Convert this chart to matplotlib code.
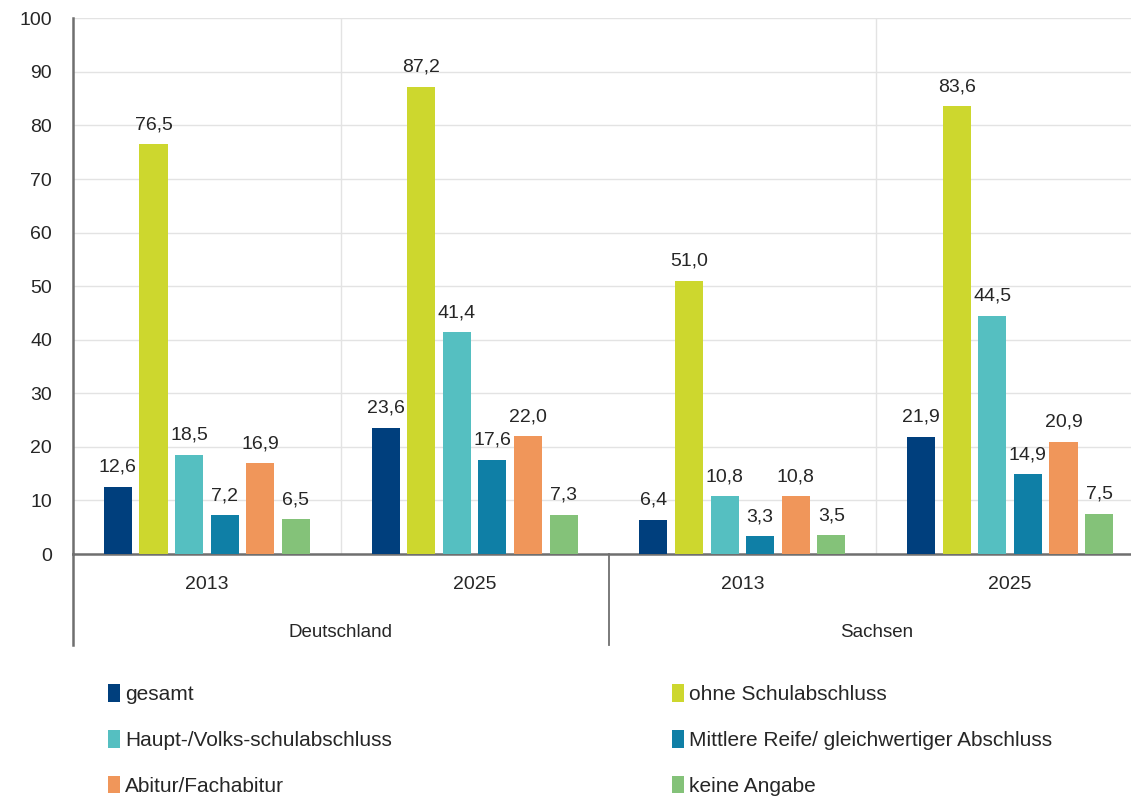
import matplotlib.pyplot as plt
import numpy as np
from matplotlib.patches import Patch
from matplotlib.lines import Line2D
from matplotlib.transforms import blended_transform_factory

plt.rcParams['font.family'] = ['Liberation Sans', 'DejaVu Sans']

regions = ['Deutschland', 'Sachsen']
years = ['2013', '2025', '2013', '2025']
series = ['gesamt', 'ohne Schulabschluss', 'Haupt-/Volks-schulabschluss',
          'Mittlere Reife/ gleichwertiger Abschluss', 'Abitur/Fachabitur', 'keine Angabe']
gesamt = [12.6, 23.6, 6.4, 21.9]
ohne = [76.5, 87.2, 51.0, 83.6]
haupt = [18.5, 41.4, 10.8, 44.5]
mittlere = [7.2, 17.6, 3.3, 14.9]
abitur = [16.9, 22.0, 10.8, 20.9]
keine = [6.5, 7.3, 3.5, 7.5]
values = [gesamt, ohne, haupt, mittlere, abitur, keine]
colors = ['#003f7d', '#cdd72e', '#55bfc1', '#0f7fa6', '#f0965a', '#84c279']

fig = plt.figure(figsize=(11.31, 7.96), dpi=100)
ax = fig.add_axes([73 / 1131, 0.304, 1071 / 1131, 0.673])

x = np.arange(len(years))
step = 0.133
width = 0.105
for i, (name, vals, col) in enumerate(zip(series, values, colors)):
    pos = x + (i - 2.5) * step
    bars = ax.bar(pos, vals, width, color=col, label=name, zorder=3)
    for b, v in zip(bars, vals):
        ax.annotate(f'{v:.1f}'.replace('.', ','), (b.get_x() + b.get_width() / 2, v),
                    xytext=(0, 8), textcoords='offset points', ha='center', va='bottom',
                    fontsize=14, color='#262626')

ax.set_xlim(-0.5, 3.5)
ax.set_ylim(0, 100)
ax.set_yticks(range(0, 101, 10))
ax.tick_params(axis='y', length=0, labelsize=14, labelcolor='#262626', pad=15)
ax.tick_params(axis='x', length=0)
ax.set_xticks([])
ax.grid(axis='y', color='#e3e3e3', linewidth=1, zorder=0)
for sep in [0.5, 2.5]:
    ax.axvline(sep, color='#e3e3e3', linewidth=1, zorder=0)

for s in ['top', 'right']:
    ax.spines[s].set_visible(False)
ax.spines['left'].set_color('#6f6f6f')
ax.spines['left'].set_linewidth(1.8)
ax.spines['bottom'].set_color('#6f6f6f')
ax.spines['bottom'].set_linewidth(1.8)

# category axis below the plot
trans = blended_transform_factory(ax.transData, ax.transAxes)
for xi, yr in zip(x, years):
    ax.text(xi, -0.057, yr, transform=trans, ha='center', va='center', fontsize=14, color='#262626')
for gi, reg in enumerate(regions):
    ax.text(gi * 2 + 0.5, -0.147, reg, transform=trans, ha='center', va='center',
            fontsize=13.5, color='#262626')
for xl, lw in [(-0.5, 1.8), (1.5, 1.3)]:
    ax.add_line(Line2D([xl, xl], [0, -0.17], transform=trans, color='#6f6f6f',
                       linewidth=lw, clip_on=False))

handles = [Patch(facecolor=c) for c in colors]
leg_kw = dict(frameon=False, fontsize=15, handlelength=0.55, handleheight=0.9,
              handletextpad=0.25, labelspacing=1.25, borderaxespad=0, labelcolor='#262626')
leg1 = fig.legend([handles[0], handles[2], handles[4]], [series[0], series[2], series[4]],
                  loc='upper left', bbox_to_anchor=(100 / 1131, 1 - 676 / 796), **leg_kw)
leg2 = fig.legend([handles[1], handles[3], handles[5]], [series[1], series[3], series[5]],
                  loc='upper left', bbox_to_anchor=(664 / 1131, 1 - 676 / 796), **leg_kw)

fig.savefig('out.png', dpi=100)
